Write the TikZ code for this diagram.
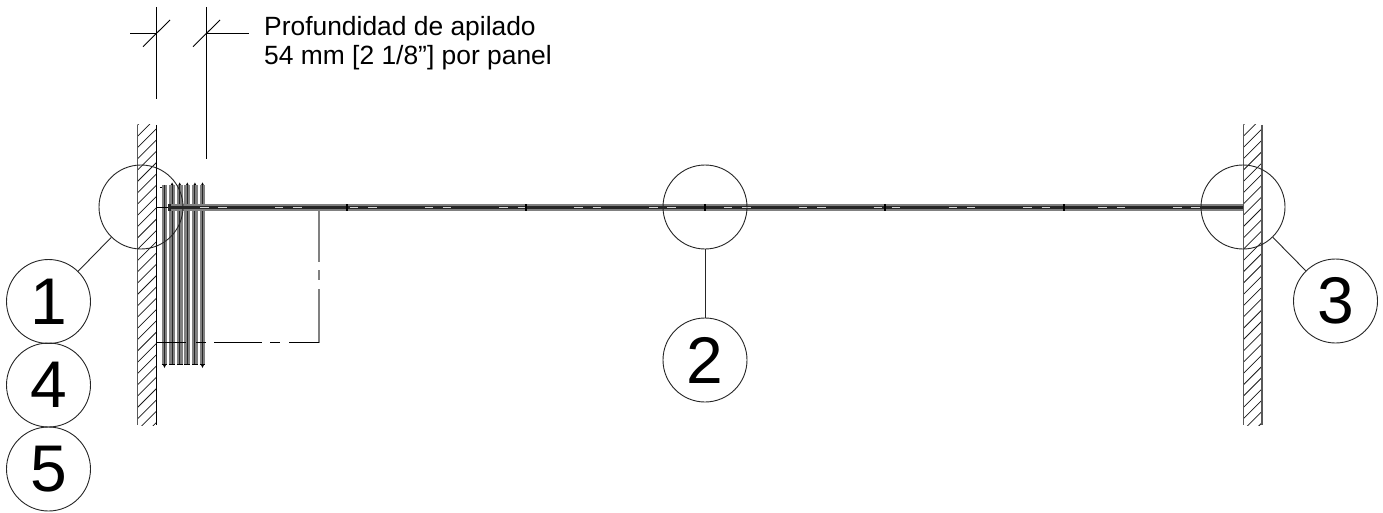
\documentclass[tikz,border=0pt]{standalone}
\usepackage{fontspec}
\setmainfont{Liberation Sans}
\usetikzlibrary{calc}
\definecolor{bargray}{gray}{0.5}
\definecolor{bandgray}{gray}{0.5}
\definecolor{coregray}{gray}{0.15}
\tikzset{
  callout/.style={circle,draw=black!85,line width=0.9pt,inner sep=0pt,minimum size=84pt,font=\fontsize{66}{66}\selectfont},
  detail/.style={circle,draw=black!85,line width=0.9pt,inner sep=0pt,minimum size=84pt},
  leader/.style={draw=black!85,line width=0.9pt},
  dimline/.style={draw=black,line width=0.9pt},
  label/.style={inner sep=0pt,anchor=base west,font=\fontsize{26.4}{29}\selectfont,text=black},
  hatchline/.style={draw=black!90,line width=0.75pt},
  wallface/.style={draw=bargray!70!black,line width=1.4pt},
  hiddenline/.style={draw=bargray,line width=1.3pt},
  hiddenh/.style={draw=black,line width=0.9pt},
}
\begin{document}
\begin{tikzpicture}[x=1pt,y=-1pt]
\useasboundingbox (0,0) rectangle (1383,513);
\fill[white] (0,0) rectangle (1383,513);

% walls
\foreach \xa/\xb in {137.5/156.3,1243.3/1262}{
  \begin{scope}
    \clip (\xa,125) rectangle (\xb,425);
    \foreach \k in {0,...,29}{
      \draw[hatchline] (\xa,{125+11.3*\k}) -- ++(19,-19);
    }
  \end{scope}
}
\draw[wallface] (137.5,125) -- (137.5,425);
\draw[dimline] (156.3,125) -- (156.3,425);
\draw[wallface] (1243.3,125) -- (1243.3,425);
\draw[wallface] (1262,125) -- (1262,425);

% stacked panels
\foreach \i in {0,...,5}{
  \fill[bargray] ({161.6+7.6*\i},185) rectangle ({167.4+7.6*\i},364.5);
  \draw[black!85,line width=0.9pt] ({164.5+7.6*\i},185) -- ({164.5+7.6*\i},364.5);
  \draw[black,line width=0.8pt] ({161.6+7.6*\i},364.5) -- ({167.4+7.6*\i},364.5);
}
\foreach \i in {1,...,5}{
  \fill[black] ({164.5+7.6*\i-1.3},185) -- ({164.5+7.6*\i+1.3},185) -- ({164.5+7.6*\i},182.5) -- cycle;
}
\draw[black,line width=1pt] (159.8,188) -- (162,188);
\fill[black] (163.1,365) -- (165.9,365) -- (164.5,368) -- cycle;
\fill[black] (201.1,365) -- (203.9,365) -- (202.5,368) -- cycle;

% extended panel line
\fill[bandgray] (168,204) rectangle (1243.3,210.7);
\fill[coregray] (168,205.6) rectangle (1243.3,209);
\draw[black,line width=0.8pt] (156.3,207.3) -- (168,207.3);
\fill[black!85] (168,203.5) rectangle (171,210.5);
\foreach \k in {0,...,13}{
  \draw[white!85!black,line width=1pt] ({200+74.85*\k},207.3) -- ++(8.5,0);
  \draw[white!85!black,line width=1pt] ({218.3+74.85*\k},207.3) -- ++(8.5,0);
}
\foreach \x in {346.7,526,705,885,1064}{
  \fill[black] (\x-0.9,203.5) rectangle (\x+0.9,210.5);
}

% swing panel outline, dash-dot
\draw[hiddenline] (319,209) -- (319,262);
\draw[hiddenline] (319,270) -- (319,280);
\draw[hiddenline] (319,289) -- (319,342.8);
\draw[hiddenh] (156.3,342.3) -- (186,342.3);
\draw[hiddenh] (196,342.3) -- (206,342.3);
\draw[hiddenh] (214,342.3) -- (262,342.3);
\draw[hiddenh] (270,342.3) -- (280,342.3);
\draw[hiddenh] (289,342.3) -- (319,342.3);

% detail circles and callouts
\node[detail] (d1) at (141,207) {};
\node[detail] (d2) at (705,207) {};
\node[detail] (d3) at (1243,207) {};
\node[callout] (c1) at (48.5,301.5) {1};
\node[callout] (c4) at (48.5,385) {4};
\node[callout] (c5) at (48.5,469) {5};
\node[callout] (c2) at (705,360) {2};
\node[callout] (c3) at (1335.5,301) {3};
\draw[leader] (d1) -- (c1);
\draw[leader] (d2) -- (c2);
\draw[leader] (d3) -- (c3);

% stacking depth dimension
\coordinate (e1a) at (156.3,7);
\coordinate (e1b) at (156.3,99);
\coordinate (e2a) at (206.7,7);
\coordinate (e2b) at (206.7,159);
\coordinate (h1a) at (130,33);
\coordinate (h1b) at (156.3,33);
\coordinate (h2a) at (206.7,33);
\coordinate (h2b) at (249,33);
\draw[dimline] (e1a) -- (e1b);
\draw[dimline] (e2a) -- (e2b);
\draw[dimline] (h1a) -- (h1b);
\draw[dimline] (h2a) -- (h2b);
\draw[dimline] (143,46.7) -- (170,20);
\draw[dimline] (193,46.7) -- (220,20);
\node[label] (t1) at (264,36) {Profundidad de apilado};
\node[label] (t2) at (264,65) {54 mm [2 1/8”] por panel};
\end{tikzpicture}
\end{document}
